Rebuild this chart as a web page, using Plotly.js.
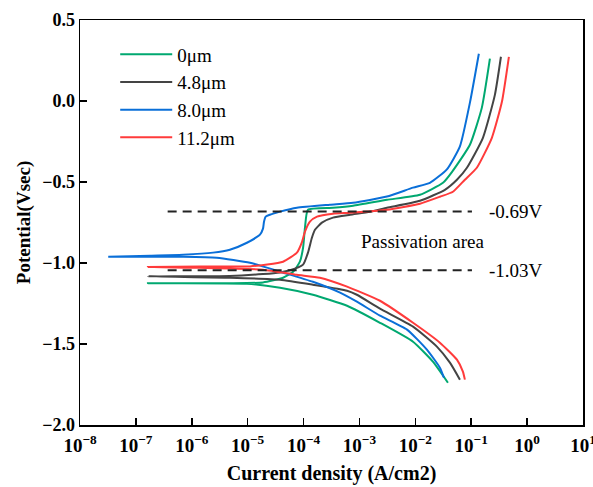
<!DOCTYPE html>
<html>
<head>
<meta charset="utf-8">
<script src="https://cdn.plot.ly/plotly-3.0.1.min.js"></script>
<style>html,body{margin:0;padding:0;background:#fff;}#chart{width:593px;height:487px;}</style>
</head>
<body>
<div id="chart"></div>
<script>
// Series names
const seriesNames = ['0\u03bcm', '4.8\u03bcm', '8.0\u03bcm', '11.2\u03bcm'];

// 0 µm (green), scan order cathodic -> anodic
const greenX = [0.0383, 0.0206, 9.1e-3, 2.33e-3, 6.0e-4, 1.47e-4, 3.8e-5, 9.7e-6, 1.64e-7,
  4.8e-6, 1.88e-5, 4.3e-5, 6.5e-5, 8.6e-5, 9.8e-5, 1.06e-4, 1.2e-4, 3.36e-4, 7.7e-4,
  3.1e-3, 0.0121, 0.0312, 0.0454, 0.0948, 0.155, 0.216];
const greenY = [-1.739, -1.609, -1.486, -1.369, -1.264, -1.196, -1.153, -1.128, -1.125,
  -1.125, -1.120, -1.091, -1.054, -0.992, -0.906, -0.782, -0.671, -0.659, -0.646,
  -0.610, -0.579, -0.505, -0.437, -0.270, -0.041, 0.261];

// 4.8 µm (black)
const blackX = [0.0628, 0.0416, 0.0243, 9.1e-3, 2.33e-3, 9.0e-4, 6.0e-4, 1.47e-4, 3.8e-5, 4.8e-6, 1.64e-7,
  4.8e-6, 1.88e-5, 3.8e-5, 5.7e-5, 9.8e-5, 1.2e-4, 1.41e-4, 1.6e-4, 2.13e-4, 3.36e-4, 6.8e-4,
  1.54e-3, 3.1e-3, 0.0121, 0.0338, 0.0555, 0.0838, 0.162, 0.265, 0.340];
const blackY = [-1.720, -1.615, -1.516, -1.393, -1.282, -1.196, -1.171, -1.134, -1.103, -1.091, -1.082,
  -1.080, -1.068, -1.058, -1.045, -1.010, -0.936, -0.844, -0.795, -0.751, -0.720, -0.702,
  -0.683, -0.659, -0.616, -0.548, -0.486, -0.412, -0.227, 0.038, 0.273];

// 8.0 µm (blue)
const blueX = [0.0325, 0.0275, 0.0161, 7.1e-3, 2.33e-3, 9.0e-4, 4.5e-4, 1.47e-4, 3.8e-5, 1.1e-5, 2.8e-6, 7.0e-7, 3.2e-8,
  1.8e-7, 7.0e-7, 2.4e-6, 4.8e-6, 9.7e-6, 1.66e-5, 1.88e-5, 1.96e-5, 2.1e-5, 2.5e-5, 3.8e-5, 7.6e-5,
  2.96e-4, 7.7e-4, 3.1e-3, 9.1e-3, 0.0182, 0.0367, 0.0628, 0.0948, 0.137];
const blueY = [-1.708, -1.646, -1.535, -1.411, -1.325, -1.239, -1.183, -1.116, -1.054, -0.998, -0.967, -0.961, -0.961,
  -0.955, -0.949, -0.936, -0.918, -0.875, -0.825, -0.788, -0.745, -0.714, -0.702, -0.683, -0.659,
  -0.640, -0.628, -0.590, -0.535, -0.505, -0.422, -0.280, -0.010, 0.292];

// 11.2 µm (red)
const redX = [0.077, 0.071, 0.0555, 0.0275, 9.1e-3, 2.33e-3, 6.0e-4, 1.96e-4, 7.6e-5, 1.88e-5, 1.4e-6, 1.64e-7,
  1.4e-6, 1.1e-5, 4.3e-5, 7.6e-5, 9.4e-5, 1.06e-4, 1.3e-4, 1.74e-4, 3.36e-4, 6.8e-4,
  3.1e-3, 0.0121, 0.0275, 0.0471, 0.077, 0.126, 0.234, 0.354, 0.472];
const redY = [-1.720, -1.671, -1.597, -1.492, -1.369, -1.233, -1.146, -1.091, -1.073, -1.041, -1.030, -1.025,
  -1.021, -1.021, -0.992, -0.936, -0.869, -0.807, -0.745, -0.714, -0.696, -0.690,
  -0.671, -0.634, -0.591, -0.560, -0.486, -0.412, -0.227, -0.005, 0.273];

// Reference dashed lines
const dashX = [3.7e-7, 0.103];
const upperDashY = -0.682;
const lowerDashY = -1.045;
const annoTexts = ['-0.69V', '-1.03V', 'Passivation area'];

// Tick labels
const xTickVals = [1e-8, 1e-7, 1e-6, 1e-5, 1e-4, 1e-3, 1e-2, 1e-1, 1e0, 1e1];
const xTickText = ['10<sup>\u22128</sup>', '10<sup>\u22127</sup>', '10<sup>\u22126</sup>', '10<sup>\u22125</sup>',
  '10<sup>\u22124</sup>', '10<sup>\u22123</sup>', '10<sup>\u22122</sup>', '10<sup>\u22121</sup>',
  '10<sup>0</sup>', '10<sup>1</sup>'];
const yTickVals = [0.5, 0.0, -0.5, -1.0, -1.5, -2.0];

const colors = ['#00A870', '#444444', '#0A6FD8', '#FF3B3B'];
const SERIF = 'Liberation Serif, Times New Roman, serif';

const series = [[greenX, greenY], [blackX, blackY], [blueX, blueY], [redX, redY]];
const traces = series.map((s, i) => ({
  x: s[0], y: s[1], type: 'scatter', mode: 'lines', name: seriesNames[i],
  line: {color: colors[i], width: 2, shape: 'spline', smoothing: 0.5}
}));
traces.push({x: dashX, y: [upperDashY, upperDashY], type: 'scatter', mode: 'lines', showlegend: false,
  line: {color: '#222', width: 2, dash: '9px,6px'}, hoverinfo: 'skip'});
traces.push({x: dashX, y: [lowerDashY, lowerDashY], type: 'scatter', mode: 'lines', showlegend: false,
  line: {color: '#222', width: 2, dash: '9px,6px'}, hoverinfo: 'skip'});

const layout = {
  width: 593, height: 487,
  margin: {l: 80, r: 10, t: 20, b: 62},
  paper_bgcolor: '#fff', plot_bgcolor: '#fff',
  showlegend: true,
  legend: {x: 0.07, y: 0.962, xanchor: 'left', yanchor: 'top', bgcolor: 'rgba(0,0,0,0)',
    font: {family: SERIF, size: 19, color: '#000'}, itemwidth: 52, tracegroupgap: 0},
  xaxis: {
    type: 'log', range: [-8, 1], tickvals: xTickVals, ticktext: xTickText,
    ticks: 'inside', ticklen: 7, tickwidth: 1.5, tickcolor: '#000',
    showline: true, linewidth: 1.5, linecolor: '#000', mirror: true,
    showgrid: false, zeroline: false, ticklabeloverflow: 'allow', ticklabelstandoff: 3,
    tickfont: {family: SERIF, size: 19, color: '#000', weight: 'bold'},
    title: {text: '<b>Current density (A/cm2)</b>', font: {family: SERIF, size: 20, color: '#000'}, standoff: 10}
  },
  yaxis: {
    range: [-2.0, 0.5], tickvals: yTickVals, tickformat: '.1f',
    ticks: 'inside', ticklen: 7, tickwidth: 1.5, tickcolor: '#000',
    showline: true, linewidth: 1.5, linecolor: '#000', mirror: true,
    showgrid: false, zeroline: false,
    tickfont: {family: SERIF, size: 18, color: '#000', weight: 'bold'},
    title: {text: '<b>Potential(Vsec)</b>', font: {family: SERIF, size: 19, color: '#000'}, standoff: 6}
  },
  annotations: [
    {x: -0.72, y: upperDashY, xref: 'x', yref: 'y', text: annoTexts[0], showarrow: false, xanchor: 'left', yanchor: 'middle',
      font: {family: SERIF, size: 19, color: '#000'}},
    {x: -0.72, y: lowerDashY, xref: 'x', yref: 'y', text: annoTexts[1], showarrow: false, xanchor: 'left', yanchor: 'middle',
      font: {family: SERIF, size: 19, color: '#000'}},
    {x: -1.86, y: -0.865, xref: 'x', yref: 'y', text: annoTexts[2], showarrow: false, xanchor: 'center', yanchor: 'middle',
      font: {family: SERIF, size: 19, color: '#000'}}
  ]
};

Plotly.newPlot('chart', traces, layout, {displayModeBar: false, staticPlot: true});
</script>
</body>
</html>
